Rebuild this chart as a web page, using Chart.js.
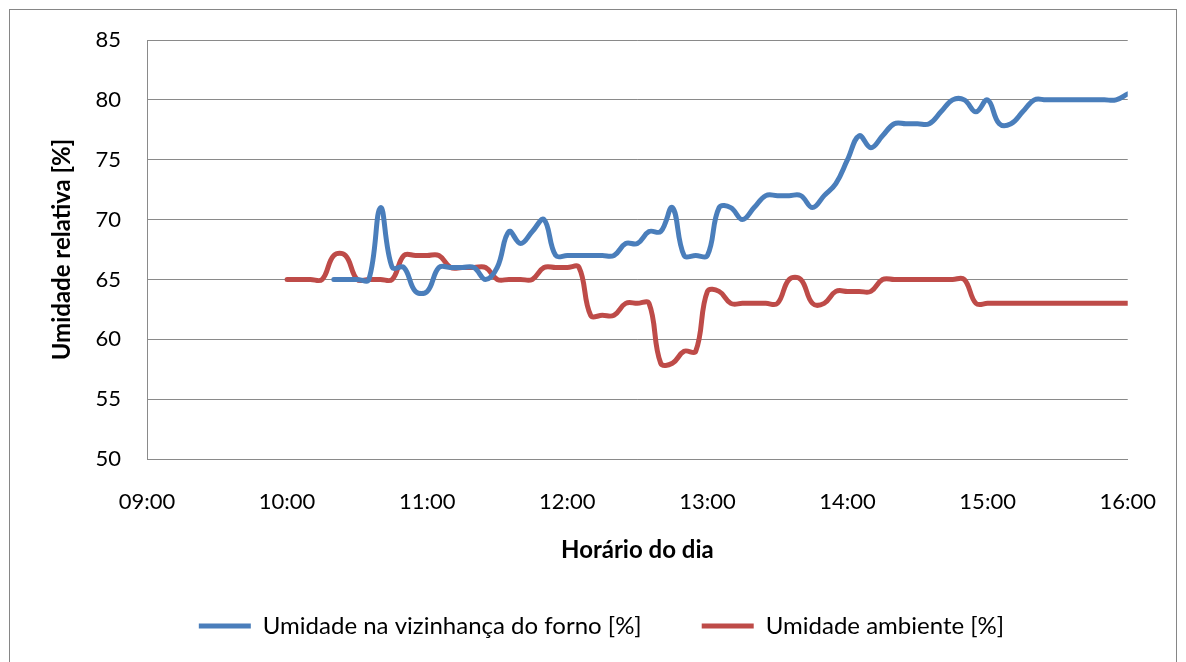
<!DOCTYPE html>
<html lang="pt-BR">
<head>
<meta charset="utf-8">
<title>Umidade relativa</title>
<script src="https://cdn.jsdelivr.net/npm/chart.js@4.4.1/dist/chart.umd.min.js"></script>
<style>
  html, body { margin: 0; padding: 0; background: #fff; }
  canvas { display: block; }
</style>
</head>
<body>
<canvas id="graficoUmidade" width="1186" height="662"></canvas>
<script>
// Leituras a cada 5 minutos
const horarios = [
  '10:00', '10:05', '10:10', '10:15', '10:20', '10:25', '10:30', '10:35', '10:40', '10:45', '10:50', '10:55',
  '11:00', '11:05', '11:10', '11:15', '11:20', '11:25', '11:30', '11:35', '11:40', '11:45', '11:50', '11:55',
  '12:00', '12:05', '12:10', '12:15', '12:20', '12:25', '12:30', '12:35', '12:40', '12:45', '12:50', '12:55',
  '13:00', '13:05', '13:10', '13:15', '13:20', '13:25', '13:30', '13:35', '13:40', '13:45', '13:50', '13:55',
  '14:00', '14:05', '14:10', '14:15', '14:20', '14:25', '14:30', '14:35', '14:40', '14:45', '14:50', '14:55',
  '15:00', '15:05', '15:10', '15:15', '15:20', '15:25', '15:30', '15:35', '15:40', '15:45', '15:50', '15:55',
  '16:00'
];

// Umidade perto do forno (sensor ligado às 10:20)
const umidadeForno = [
  null, null, null, null, 65, 65, 65, 65, 71, 66, 66, 64,
  64, 66, 66, 66, 66, 65, 66, 69, 68, 69, 70, 67,
  67, 67, 67, 67, 67, 68, 68, 69, 69, 71, 67, 67,
  67, 71, 71, 70, 71, 72, 72, 72, 72, 71, 72, 73,
  75, 77, 76, 77, 78, 78, 78, 78, 79, 80, 80, 79,
  80, 78, 78, 79, 80, 80, 80, 80, 80, 80, 80, 80,
  80.5
];

// Umidade do ambiente
const umidadeAmbiente = [
  65, 65, 65, 65, 67, 67, 65, 65, 65, 65, 67, 67,
  67, 67, 66, 66, 66, 66, 65, 65, 65, 65, 66, 66,
  66, 66, 62, 62, 62, 63, 63, 63, 58, 58, 59, 59,
  64, 64, 63, 63, 63, 63, 63, 65, 65, 63, 63, 64,
  64, 64, 64, 65, 65, 65, 65, 65, 65, 65, 65, 63,
  63, 63, 63, 63, 63, 63, 63, 63, 63, 63, 63, 63,
  63
];

const marcasHorario = ['09:00', '10:00', '11:00', '12:00', '13:00', '14:00', '15:00', '16:00'];
const marcasUmidade = [50, 55, 60, 65, 70, 75, 80, 85];

// converte 'hh:mm' em minutos desde 00:00
const minutos = h => {
  const [hh, mm] = h.split(':').map(Number);
  return hh * 60 + mm;
};
const paraHora = m => String(Math.floor(m / 60)).padStart(2, '0') + ':' + String(m % 60).padStart(2, '0');

const pontos = serie => horarios.map((h, i) => ({ x: minutos(h), y: serie[i] }));

Chart.defaults.font.family = 'Lato, "Open Sans", sans-serif';
Chart.defaults.font.size = 22;
Chart.defaults.color = '#000';

// moldura cinza em volta do gráfico
const moldura = {
  id: 'moldura',
  beforeDraw(chart) {
    const ctx = chart.ctx;
    ctx.save();
    ctx.fillStyle = '#fff';
    ctx.fillRect(0, 0, chart.width, chart.height);
    ctx.strokeStyle = '#868686';
    ctx.lineWidth = 1;
    ctx.strokeRect(9.5, 9.5, 1167, 700);
    ctx.restore();
  }
};

const corGrade = '#8a8a8a';

new Chart(document.getElementById('graficoUmidade'), {
  type: 'line',
  data: {
    datasets: [
      {
        label: 'Umidade na vizinhança do forno [%]',
        data: pontos(umidadeForno),
        borderColor: '#4A7EBB',
        backgroundColor: '#4A7EBB',
        borderWidth: 5,
        tension: 0.4,
        pointRadius: 0,
        borderJoinStyle: 'round',
        borderCapStyle: 'round',
        spanGaps: false
      },
      {
        label: 'Umidade ambiente [%]',
        data: pontos(umidadeAmbiente),
        borderColor: '#BE4B48',
        backgroundColor: '#BE4B48',
        borderWidth: 5,
        tension: 0.4,
        pointRadius: 0,
        borderJoinStyle: 'round',
        borderCapStyle: 'round'
      }
    ]
  },
  options: {
    responsive: false,
    animation: false,
    layout: { padding: { left: 17, right: 0, top: 40, bottom: 14 } },
    scales: {
      x: {
        type: 'linear',
        min: minutos(marcasHorario[0]),
        max: minutos(marcasHorario[marcasHorario.length - 1]),
        afterBuildTicks: s => { s.ticks = marcasHorario.map(h => ({ value: minutos(h) })); },
        afterFit: s => { s.height = 95; },
        ticks: { padding: 30, maxRotation: 0, callback: v => paraHora(v) },
        grid: { display: false, drawTicks: false },
        border: { display: true, color: corGrade, width: 1 },
        title: {
          display: true,
          text: 'Horário do dia',
          font: { weight: 'bold', size: 24 },
          padding: { top: 0, bottom: -11 }
        }
      },
      y: {
        min: marcasUmidade[0],
        max: marcasUmidade[marcasUmidade.length - 1],
        afterBuildTicks: s => { s.ticks = marcasUmidade.map(v => ({ value: v })); },
        afterFit: s => { s.width = 130; },
        ticks: { padding: 26 },
        grid: { color: corGrade, lineWidth: 1, drawTicks: false },
        border: { display: true, color: corGrade, width: 1 },
        title: {
          display: true,
          text: 'Umidade relativa [%]',
          font: { weight: 'bold', size: 24 },
          padding: { top: 31, bottom: 0 }
        }
      },
      // eixo vazio à direita, só para reservar a margem
      margemDireita: {
        position: 'right',
        display: true,
        afterFit: s => { s.width = 57; },
        ticks: { display: false },
        grid: { display: false, drawTicks: false },
        border: { display: false }
      }
    },
    plugins: {
      legend: {
        position: 'bottom',
        labels: {
          boxWidth: 52,
          boxHeight: 5,
          padding: 60,
          font: { size: 24 },
          generateLabels: chart => chart.data.datasets.map((ds, i) => ({
            text: ds.label,
            fillStyle: ds.borderColor,
            strokeStyle: ds.borderColor,
            lineWidth: 0,
            fontColor: '#000',
            hidden: false,
            datasetIndex: i
          }))
        }
      },
      tooltip: { enabled: false }
    }
  },
  plugins: [moldura]
});
</script>
</body>
</html>
